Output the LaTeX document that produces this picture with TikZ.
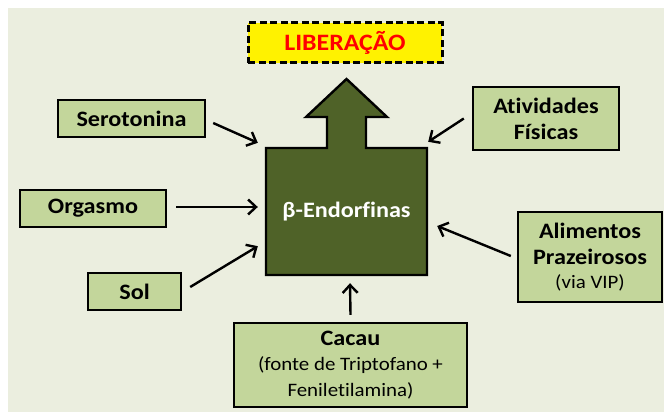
\documentclass[tikz,border=0pt]{standalone}
\usepackage{fontspec}
\setmainfont{Carlito}[FakeStretch=1.1, Ligatures=NoCommon]
\usetikzlibrary{arrows.meta}

\definecolor{panel}{HTML}{EBEEDF}
\definecolor{leaf}{HTML}{C3D69B}
\definecolor{olive}{HTML}{4F6228}
\newcommand{\smalltxt}[1]{{\mdseries\fontsize{19}{23}\selectfont #1}}

\tikzset{
  src/.style={draw=black, line width=2.4pt, fill=leaf, inner sep=0pt, align=center,
    font=\fontsize{22}{26}\selectfont\bfseries},
  push/.style={line width=2.4pt, -{Straight Barb[length=8pt,width=15pt]}},
}

\begin{document}
\begin{tikzpicture}[x=1pt,y=-1pt,line join=miter]
  \useasboundingbox (0,0) rectangle (664,412);
  \fill[panel] (8,8) rectangle (664,412);

  % release label
  \node (lib) at (345,43) [draw=black, line width=3pt, dash pattern=on 7pt off 3.5pt,
    fill=yellow, text=red, inner sep=0pt, minimum width=194pt, minimum height=40pt,
    font=\fontsize{23.5}{26}\selectfont\bfseries] {LIBERAÇÃO};

  % box with the arrow on top
  \draw[line width=2.4pt, fill=olive] (266,275) -- (266,148) -- (327,148) -- (327,117)
    -- (306,117) -- (346.5,79) -- (387,117) -- (366,117) -- (366,148) -- (427,148)
    -- (427,275) -- cycle;
  \node (endorf) at (346.5,211.5) [minimum width=161pt, minimum height=127pt, text=white,
    font=\fontsize{22}{26}\selectfont\bfseries] {β-Endorfinas};

  % sources
  \node[src, minimum width=147pt, minimum height=37pt] (sero) at (131.5,118.5) {Serotonina};
  \node[src, minimum width=146pt, minimum height=37pt] (orga) at (93,208.5) {Orgasmo};
  \node[src, minimum width=93pt, minimum height=37pt] (sol) at (134.5,291.5) {Sol};
  \node[src, minimum width=146pt, minimum height=63pt] (ativ) at (546,118.5) {Atividades\\Físicas};
  \node[src, minimum width=144pt, minimum height=90pt] (alim) at (590,257)
    {Alimentos\\Prazeirosos\\[-2pt]\smalltxt{(via VIP)}};
  \node[src, minimum width=233pt, minimum height=84pt] (cacau) at (350.5,365)
    {Cacau\\[-1pt]\smalltxt{(fonte de Triptofano +}\\\smalltxt{Feniletilamina)}};

  % arrows into the box
  \draw[push] ([shift={(7,4.5)}]sero.east) -- ([shift={(-8,-5)}]endorf.north west);
  \draw[push] ([shift={(9,-1.5)}]orga.east) -- ([shift={(-8,-4.5)}]endorf.west);
  \draw[push] ([shift={(8,-4.5)}]sol.east) -- ([shift={(-8,-29)}]endorf.south west);
  \draw[push] ([shift={(-8,0)}]ativ.west) -- ([shift={(1,-6)}]endorf.north east);
  \draw[push] ([shift={(-6,-1)}]alim.west) -- ([shift={(10,14.5)}]endorf.east);
  \draw[push] ([shift={(0,-7)}]cacau.north) -- ([shift={(3.5,8)}]endorf.south);
\end{tikzpicture}
\end{document}
